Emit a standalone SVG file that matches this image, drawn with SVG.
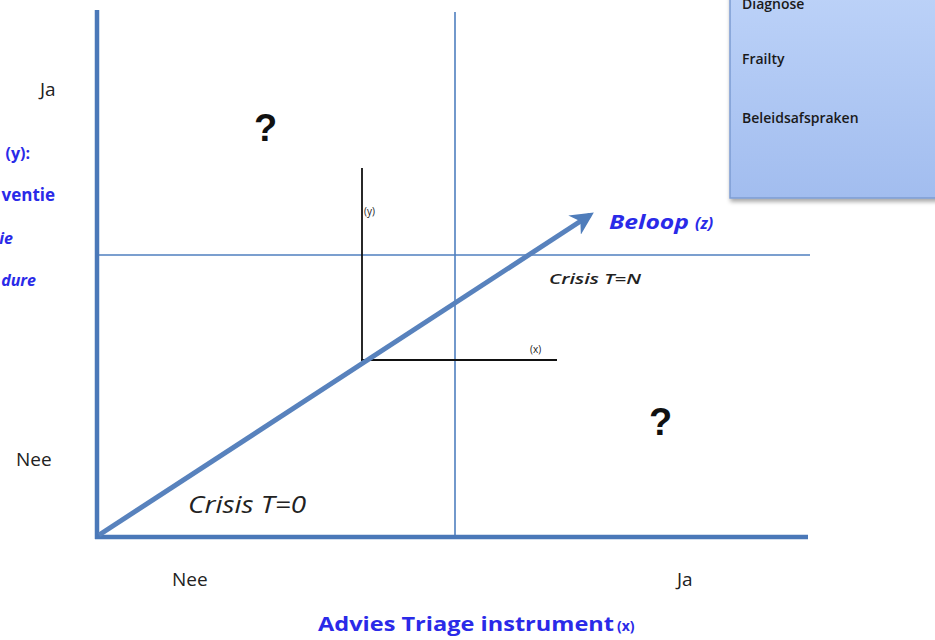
<svg xmlns="http://www.w3.org/2000/svg" width="935" height="640" viewBox="0 0 935 640">
<defs>
<linearGradient id="boxg" x1="0" y1="0" x2="0" y2="1">
<stop offset="0" stop-color="#bcd2f8"/>
<stop offset="1" stop-color="#a2bdef"/>
</linearGradient>
<filter id="sh" x="-10%" y="-10%" width="130%" height="130%">
<feDropShadow dx="1" dy="3" stdDeviation="2" flood-color="#000" flood-opacity="0.35"/>
</filter>
<marker id="ah" viewBox="0 0 10 10" refX="8" refY="5" markerWidth="4.6" markerHeight="4.6" orient="auto" markerUnits="strokeWidth">
<path d="M0,0 L10,5 L0,10 L3,5 Z" fill="#4f7dbb"/>
</marker>
<style>
.ax{stroke:#4a78b8;stroke-width:4.5;fill:none}
.grid{stroke:#4f7fbf;stroke-width:1.6;fill:none}
.blk{stroke:#111;stroke-width:1.8;fill:none}
.lbl{font-family:"Open Sans","Liberation Sans",sans-serif;fill:#222}
.blue{font-family:"Open Sans","Liberation Sans",sans-serif;fill:#2a2ae8;font-weight:bold}
.q{font-family:"Liberation Sans",sans-serif;font-weight:bold;font-size:38px;fill:#111}
.box{font-family:"Open Sans","Liberation Sans",sans-serif;font-size:14px;font-weight:600;fill:#1a1a1a}
</style>
</defs>
<rect width="935" height="640" fill="#fff"/>

<g id="legend-box">
<rect x="730" y="-10" width="215" height="208" fill="url(#boxg)" stroke="#7c9cd2" stroke-width="1.5" filter="url(#sh)"/>
<text class="box" x="742" y="9">Diagnose</text>
<text class="box" x="742" y="64">Frailty</text>
<text class="box" x="742" y="123">Beleidsafspraken</text>
</g>

<g id="connectors">
<line class="grid" x1="455" y1="12" x2="455" y2="537"/>
<line class="grid" x1="97" y1="255" x2="810" y2="255"/>
<line class="blk" x1="362" y1="168" x2="362" y2="360"/>
<line class="blk" x1="361" y1="360" x2="557" y2="360"/>
<line class="ax" x1="97" y1="10" x2="97" y2="539"/>
<line class="ax" x1="95" y1="537" x2="808" y2="537"/>
<line x1="99" y1="535" x2="590" y2="215" stroke="#5882bd" stroke-width="5" marker-end="url(#ah)"/>
</g>

<g id="y-labels">
<text class="lbl" x="40" y="96" font-size="19">Ja</text>
<text class="lbl" x="16" y="466" font-size="19">Nee</text>
<text class="blue" x="30" y="159" font-size="16" text-anchor="end">(y):</text>
<text class="blue" x="55" y="201" font-size="17" text-anchor="end">ventie</text>
<text class="blue" x="13" y="244" font-size="16" font-style="italic" text-anchor="end">ie</text>
<text class="blue" x="36" y="286" font-size="16" font-style="italic" text-anchor="end">dure</text>
</g>

<g id="x-labels">
<text class="lbl" x="172" y="586" font-size="19">Nee</text>
<text class="lbl" x="677" y="586" font-size="19">Ja</text>
<text class="blue" x="318" y="631" font-size="20" textLength="296" lengthAdjust="spacingAndGlyphs">Advies Triage instrument</text>
<text class="blue" x="617" y="631" font-size="14">(x)</text>
</g>

<g id="quadrant-labels">
<text class="q" x="254" y="141">?</text>
<text class="q" x="649" y="435">?</text>
</g>

<g id="inner-axes-labels">
<text class="lbl" x="364" y="215" font-size="10">(y)</text>
<text class="lbl" x="530" y="353" font-size="10">(x)</text>
</g>

<g id="beloop">
<text class="blue" x="609" y="229" font-size="20" font-style="italic" textLength="80" lengthAdjust="spacingAndGlyphs">Beloop</text>
<text class="blue" x="695" y="229" font-size="16" font-style="italic">(z)</text>
</g>

<g id="crisis-labels">
<text class="lbl" x="549" y="284" font-size="14" font-style="italic" font-weight="600" fill="#333" textLength="92" lengthAdjust="spacingAndGlyphs">Crisis T=N</text>
<text class="lbl" x="188" y="513" font-size="23" font-style="italic" fill="#333" textLength="118" lengthAdjust="spacingAndGlyphs">Crisis T=0</text>
</g>
</svg>
